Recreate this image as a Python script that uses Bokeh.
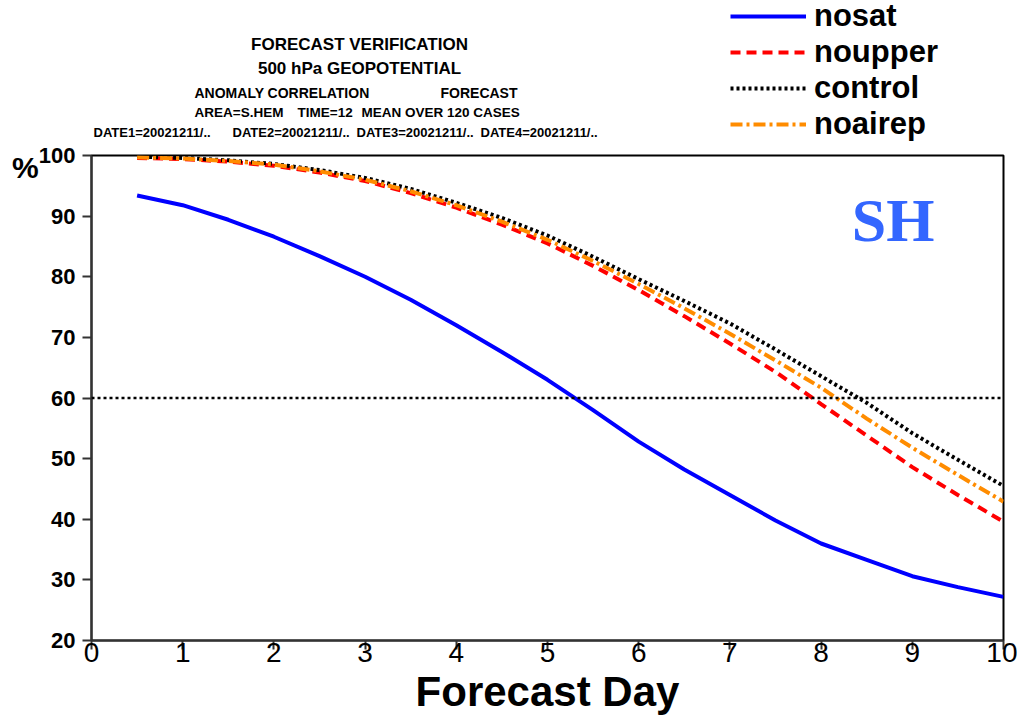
from bokeh.plotting import figure
from bokeh.models import Range1d, Label, Span, Legend, LegendItem, FixedTicker
from bokeh.layouts import column
from bokeh.embed import file_html
from bokeh.resources import INLINE

days = [0.5, 1.0, 1.5, 2.0, 2.5, 3.0, 3.5, 4.0, 4.5, 5.0,
        5.5, 6.0, 6.5, 7.0, 7.5, 8.0, 8.5, 9.0, 9.5, 10.0]
nosat = [93.4, 91.8, 89.4, 86.6, 83.4, 80.0, 76.2, 72.0, 67.6, 63.0,
         58.0, 52.8, 48.2, 44.0, 39.8, 36.0, 33.3, 30.6, 28.8, 27.2]
noupper = [99.6, 99.4, 99.0, 98.3, 97.2, 95.8, 93.8, 91.4, 88.6, 85.5,
           81.8, 77.8, 73.5, 69.0, 64.3, 59.0, 53.8, 48.6, 44.0, 39.6]
control = [99.8, 99.6, 99.2, 98.6, 97.6, 96.3, 94.5, 92.2, 89.7, 86.8,
           83.3, 79.6, 76.0, 72.3, 68.0, 63.6, 59.2, 54.2, 49.8, 45.5]
noairep = [99.7, 99.5, 99.1, 98.5, 97.4, 96.0, 94.1, 91.8, 89.1, 86.1,
           82.6, 78.8, 74.8, 70.6, 66.2, 61.7, 56.6, 51.8, 47.3, 42.9]
series_names = ["nosat", "noupper", "control", "noairep"]
ref_level = 60
x_ticks = list(range(0, 11))
y_ticks = list(range(20, 101, 10))

title_1 = "FORECAST VERIFICATION"
title_2 = "500 hPa GEOPOTENTIAL"
title_3 = ["ANOMALY CORRELATION", "FORECAST"]
title_4 = ["AREA=S.HEM", "TIME=12", "MEAN OVER 120 CASES"]
title_5 = ["DATE1=20021211/..", "DATE2=20021211/..", "DATE3=20021211/..", "DATE4=20021211/.."]
x_title = "Forecast Day"
y_unit = "%"
region = "SH"

styles = [dict(line_color="#0000ff", line_width=4),
          dict(line_color="#ff0000", line_width=4, line_dash="10 6"),
          dict(line_color="black", line_width=4, line_dash="3 3"),
          dict(line_color="#ff8c00", line_width=4, line_dash="12 4 3 4")]

W = 1017
HEAD_H = 143
MAIN_H = 717 - HEAD_H
NAN = float("nan")

# ---------- header: titles and legend (page-pixel coordinates) ----------
head = figure(width=W, height=HEAD_H, output_backend="svg", toolbar_location=None,
              x_range=Range1d(91, 1003), y_range=Range1d(HEAD_H, 0),
              x_axis_type=None, y_axis_type=None,
              min_border_left=91, min_border_right=14, min_border_top=0, min_border_bottom=0)
head.grid.visible = False
head.outline_line_color = None


def add_text(x, y, txt, size, align="left"):
    head.add_layout(Label(x=x, y=y, text=txt, text_align=align, text_baseline="middle",
                          text_font="Liberation Sans", text_font_style="bold",
                          text_font_size=size, text_color="black"))


add_text(359, 44, title_1, "17px", "center")
add_text(359, 68, title_2, "17px", "center")
for txt, x0 in zip(title_3, [194, 440]):
    add_text(x0, 92, txt, "14px")
for txt, x0 in zip(title_4, [194, 297, 361]):
    add_text(x0, 112, txt, "13.5px")
for txt, x0 in zip(title_5, [93, 232, 356, 480]):
    add_text(x0, 132, txt, "13px")

dummy = [head.line([NAN], [NAN], **st) for st in styles]
legend = Legend(items=[LegendItem(label=n, renderers=[r]) for n, r in zip(series_names, dummy)],
                location=(639, 1), orientation="vertical",
                label_text_font="Liberation Sans", label_text_font_style="bold",
                label_text_font_size="31px", label_text_color="black",
                glyph_width=76, glyph_height=20,
                label_height=30, label_standoff=8, spacing=0, padding=0, margin=0,
                border_line_color=None, background_fill_alpha=0)
head.add_layout(legend, "center")

# ---------- main chart ----------
p = figure(width=W, height=MAIN_H, output_backend="svg", toolbar_location=None,
           x_range=Range1d(0, 10), y_range=Range1d(20, 100),
           min_border_left=91, min_border_right=14, min_border_top=12, min_border_bottom=76)
p.grid.visible = False
p.outline_line_color = "black"
p.outline_line_width = 2

for ax in (p.xaxis[0], p.yaxis[0]):
    ax.axis_line_color = "#333333"
    ax.axis_line_width = 2
    ax.major_tick_line_color = "#333333"
    ax.major_tick_line_width = 2
    ax.major_tick_out = 9
    ax.major_tick_in = 0
    ax.minor_tick_line_color = None
    ax.major_label_text_color = "black"

p.xaxis.ticker = FixedTicker(ticks=x_ticks)
p.yaxis.ticker = FixedTicker(ticks=y_ticks)
p.xaxis.major_label_text_font = "Liberation Sans"
p.xaxis.major_label_text_font_size = "28px"
p.xaxis.major_label_standoff = -7
p.xaxis.axis_label = x_title
p.xaxis.axis_label_text_font = "Liberation Sans"
p.xaxis.axis_label_text_font_style = "bold"
p.xaxis.axis_label_text_font_size = "42px"
p.xaxis.axis_label_standoff = 3
p.xaxis.axis_label_text_color = "black"
p.yaxis.major_label_text_font = "Liberation Sans"
p.yaxis.major_label_text_font_style = "bold"
p.yaxis.major_label_text_font_size = "22px"
p.yaxis.major_label_standoff = 7

yax = p.yaxis[0]
yax.axis_label = "\n" + y_unit
yax.axis_label_standoff = -3
yax.axis_label_text_font = "Liberation Sans"
yax.axis_label_text_font_style = "bold"
yax.axis_label_text_font_size = "30px"
yax.axis_label_text_color = "black"
yax.axis_label_text_line_height = 0.75
if "axis_label_orientation" in type(yax).properties():
    yax.axis_label_orientation = "horizontal"
if "axis_label_align" in type(yax).properties():
    yax.axis_label_align = "end"

p.add_layout(Span(location=ref_level, dimension="width", line_color="black",
                  line_width=2.5, line_dash="3 3"))

for vals, st in zip([nosat, noupper, control, noairep], styles):
    p.line(days, vals, **st)

p.add_layout(Label(x=8.79, y=89.3, text=region, text_align="center", text_baseline="middle",
                   text_font="Liberation Serif", text_font_style="bold",
                   text_font_size="62px", text_color="#3366ff"))

layout = column(head, p, spacing=0)
open("out.html", "w").write(file_html(layout, INLINE))
